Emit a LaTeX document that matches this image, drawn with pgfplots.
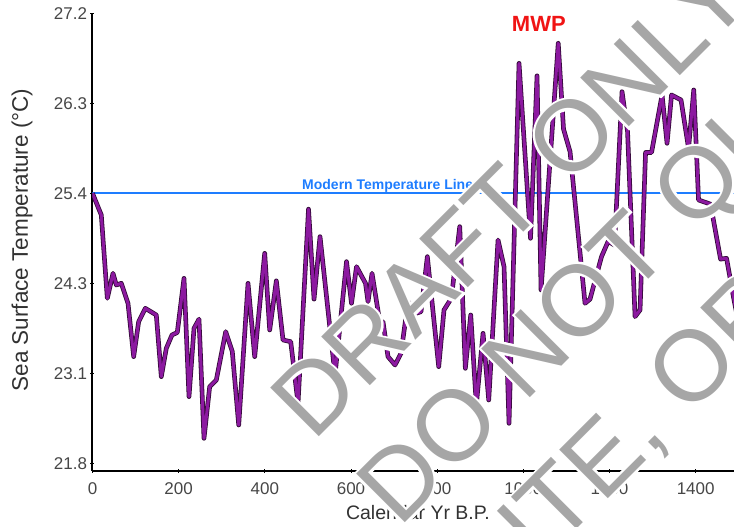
\documentclass[border=0pt]{standalone}
\usepackage{fontspec}
\setmainfont{Liberation Sans}
\newfontfamily\wmhalo[FakeBold=5]{Liberation Sans}
\usepackage{pgfplots}
\usepackage{pgfplotstable}
\pgfplotsset{compat=1.18}
\definecolor{sstpurple}{RGB}{140,25,160}
\definecolor{sstedge}{RGB}{50,10,55}
\definecolor{modblue}{RGB}{30,125,255}
\definecolor{wmgrey}{RGB}{166,166,166}
\definecolor{ticktext}{RGB}{70,70,70}
\definecolor{labtext}{RGB}{50,50,50}
\definecolor{mwpred}{RGB}{240,20,20}

\pgfplotstableread{
x y
0 25.04
20.4 24.78
34.4 23.78
47.6 24.08
55.2 23.94
66.9 23.96
82.4 23.72
95.6 23.08
107.2 23.50
122.6 23.66
148.1 23.58
159.7 22.84
171.3 23.18
184.5 23.34
196.8 23.37
212.4 24.02
224.0 22.60
235.6 23.42
247.2 23.53
258.8 22.10
272.0 22.72
287.4 22.80
309.2 23.38
324.5 23.14
339.4 22.26
361.0 23.96
376.5 23.08
399.7 24.32
411.3 23.40
426.7 23.99
442.2 23.28
460.1 23.26
477.0 22.52
501.4 24.85
514.2 23.77
528.1 24.52
562.9 22.86
589.6 24.22
601.2 23.72
612.8 24.16
633.7 23.96
639.5 23.74
648.8 24.08
666.7 23.50
674.3 23.50
685.9 23.08
702.2 22.98
716.1 23.12
732.4 23.74
751.6 23.60
762.5 23.62
777.2 24.28
803.6 22.96
815.9 23.64
832.9 23.78
852.4 24.64
865.4 22.94
877.9 23.58
890.9 22.50
906.5 23.36
919.7 22.56
941.3 24.48
955.2 24.16
966.8 22.28
990.0 26.60
1016.7 24.50
1031.8 26.45
1041.1 23.88
1081.0 26.84
1093.3 25.81
1108.4 25.54
1143.2 23.72
1154.8 23.77
1181.5 24.28
1196.6 24.46
1211.7 24.42
1229.1 26.26
1241.9 25.78
1259.3 23.56
1270.9 23.64
1283.7 25.53
1297.6 25.53
1322.0 26.22
1333.6 25.64
1344.0 26.22
1366.0 26.16
1383.5 25.58
1395.6 26.28
1406.7 24.96
1434.5 24.91
1457.8 24.25
1471.7 24.26
1489.0 23.76
1503.0 23.40
}\sst

\tikzset{wmstyle/.style={font=\fontsize{100bp}{120bp}\selectfont, rotate=45, anchor=base west, inner sep=0pt}}
\newcommand\wm[2]{%
  \node[wmstyle, text=white, font=\wmhalo\fontsize{100bp}{120bp}\selectfont] at #1 {#2};%
  \node[wmstyle, text=wmgrey] at #1 {#2};}

\begin{document}
\begin{tikzpicture}[x=1bp,y=1bp]
\begin{axis}[
  width=641.5bp, height=457.7bp, scale only axis,
  at={(0,0)}, anchor=south west,
  xmin=0, xmax=1489, ymin=21.708, ymax=27.2,
  axis lines=left, axis line style={line width=2bp, black, -},
  xtick={0,200,...,1400},
  ytick={21.8,22.88,23.96,25.04,26.12,27.2},
  yticklabels={21.8,23.1,24.3,25.4,26.3,27.2},
  tick style={black, line width=1bp},
  major tick length=4bp,
  tick align=center,
  /pgf/number format/assume math mode=true,
  /pgf/number format/1000 sep={},
  tick label style={font=\fontsize{17bp}{20bp}\selectfont, text=ticktext},
  xticklabel style={yshift=-6bp},
  xlabel={Calendar Yr B.P.},
  ylabel={Sea Surface Temperature (°C)},
  xlabel style={at={(axis description cs:0.5073,-0.0918)}, anchor=center, font=\fontsize{19.5bp}{23bp}\selectfont, text=labtext},
  ylabel style={at={(axis description cs:-0.1099,0.5047)}, anchor=center, font=\fontsize{22.5bp}{26bp}\selectfont, text=labtext},
]
\addplot[draw=modblue, line width=1.8bp] coordinates {(0,25.04) (1489,25.04)};
\addplot[draw=sstedge, line width=4.6bp, line join=round] table[x=x,y=y] {\sst};
\addplot[draw=sstpurple, line width=3bp, line join=round] table[x=x,y=y] {\sst};
\node[anchor=base west, inner sep=0pt, font=\bfseries\fontsize{14bp}{16bp}\selectfont, text=modblue] at (axis cs:486.3,25.088) {Modern Temperature Line};
\node[font=\bfseries\fontsize{22bp}{26bp}\selectfont, text=mwpred] at (axis cs:1036,27.07) {MWP};
\end{axis}
\wm{(220.4,27.9)}{DRAFT ONLY}
\wm{(306.4,-58.0)}{DO NOT QUOTE,}
\wm{(395.5,-147.1)}{CITE, OR DISTRIBUTE}
\pgfresetboundingbox
\path[use as bounding box] (-92.5,-56) rectangle (641.5,471);
\end{tikzpicture}
\end{document}
